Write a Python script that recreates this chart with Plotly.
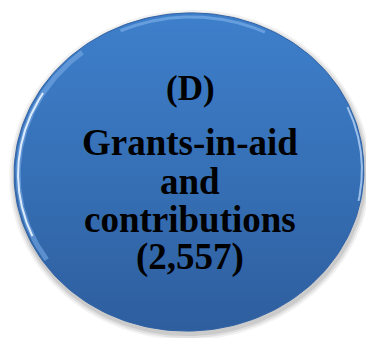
import numpy as np
import plotly.graph_objects as go

# ---- data ----
labels = ["(D)", "Grants-in-aid", "and", "contributions"]
values = [2557]
value_label = "({:,})".format(values[0])

W, H = 366, 338
cx, cy, rx, ry = 189, 172, 175, 159
rot = np.deg2rad(-4)

def ell(a0, a1, cx=cx, cy=cy, rx=rx, ry=ry, n=200):
    t = np.linspace(a0, a1, n)
    x0 = rx * np.cos(t)
    y0 = ry * np.sin(t)
    x = cx + x0 * np.cos(rot) - y0 * np.sin(rot)
    y = cy + x0 * np.sin(rot) + y0 * np.cos(rot)
    return x, y

fig = go.Figure()

# shadow
for d, op in [(6, 0.05), (4, 0.07), (2, 0.09)]:
    x, y = ell(0, 2 * np.pi, cx=cx + 1, cy=cy + 3, rx=rx + d, ry=ry + d)
    fig.add_trace(go.Scatter(x=x, y=y, mode="lines", fill="toself",
                             fillcolor=f"rgba(0,0,0,{op})", line=dict(width=0),
                             hoverinfo="skip", showlegend=False))

# main disc
x, y = ell(0, 2 * np.pi)
fig.add_trace(go.Scatter(
    x=x, y=y, mode="lines", fill="toself",
    fillgradient=dict(type="vertical",
                      colorscale=[[0, "#2E5E9E"], [0.5, "#3670B6"], [1, "#3E7FCB"]]),
    line=dict(width=1, color="#2F62A6"), hoverinfo="skip", showlegend=False))

# rim highlights (lower-left)
x, y = ell(np.deg2rad(150), np.deg2rad(235), rx=rx - 4, ry=ry - 4)
fig.add_trace(go.Scatter(x=x, y=y, mode="lines",
                         line=dict(width=5, color="rgba(120,170,230,0.6)"),
                         hoverinfo="skip", showlegend=False))
x, y = ell(np.deg2rad(160), np.deg2rad(215), rx=rx - 4, ry=ry - 4)
fig.add_trace(go.Scatter(x=x, y=y, mode="lines",
                         line=dict(width=2, color="rgba(235,245,255,0.9)"),
                         hoverinfo="skip", showlegend=False))
# rim highlights (top / right)
x, y = ell(np.deg2rad(250), np.deg2rad(300), rx=rx - 4, ry=ry - 4)
fig.add_trace(go.Scatter(x=x, y=y, mode="lines",
                         line=dict(width=3, color="rgba(130,180,235,0.6)"),
                         hoverinfo="skip", showlegend=False))
x, y = ell(np.deg2rad(-20), np.deg2rad(15), rx=rx - 2, ry=ry - 2)
fig.add_trace(go.Scatter(x=x, y=y, mode="lines",
                         line=dict(width=2, color="rgba(200,225,255,0.7)"),
                         hoverinfo="skip", showlegend=False))

# text
lines = [(labels[0], 35, 88), (labels[1], 37, 142), (labels[2], 37, 181),
         (labels[3], 37, 219), (value_label, 37, 257)]
for txt, size, ypos in lines:
    fig.add_annotation(x=190, y=ypos, xref="x", yref="y", text=f"<b>{txt}</b>",
                       showarrow=False, xanchor="center", yanchor="middle",
                       font=dict(family="Liberation Serif", size=size, color="#000000"))

fig.update_layout(
    width=W, height=H, margin=dict(l=0, r=0, t=0, b=0),
    paper_bgcolor="white", plot_bgcolor="white",
    xaxis=dict(range=[0, W], visible=False, fixedrange=True),
    yaxis=dict(range=[H, 0], visible=False, fixedrange=True),
)
fig.write_html("out.html", config={"displayModeBar": False})
